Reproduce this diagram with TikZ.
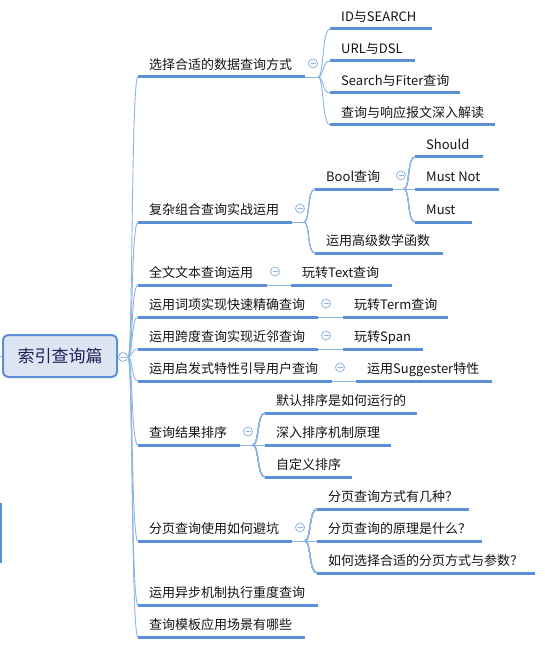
\documentclass[tikz,border=0pt]{standalone}
\usepackage{fontspec}
\setmainfont{Noto Sans CJK SC}
\definecolor{ulc}{HTML}{5B8FD6}
\definecolor{thc}{HTML}{8DB4E2}
\definecolor{rootf}{HTML}{DCE6F2}
\definecolor{roott}{HTML}{1F1F5A}
\newcommand\mmitem[5]{%
  \coordinate (#1-l) at (#2,#4);
  \coordinate (#1-r) at (#3,#4);
  \node[lbl] (#1) at ([xshift=11pt,yshift=7.5pt]#1-l) {#5};
  \draw[ul] (#1-l) -- (#1-r);}
\newcommand\mmcurve[2]{\draw[thinl] (#1) .. controls +(6,0) and +(-8,0) .. (#2-l);}
\begin{document}
\begin{tikzpicture}[x=1pt,y=-1pt,
  lbl/.style={anchor=base west,inner sep=0pt,font=\fontsize{13pt}{15pt}\selectfont,text=black!92},
  ul/.style={draw=ulc,line width=3pt},
  thinl/.style={draw=thc,line width=0.9pt},
  collapse/.style={circle,draw=thc,fill=white,line width=0.8pt,minimum size=9pt,inner sep=0pt,
    path picture={\draw[thc,line width=0.8pt] ([xshift=-2.5pt]path picture bounding box.center) -- ([xshift=2.5pt]path picture bounding box.center);}},
  rootbox/.style={draw=ulc,line width=2pt,fill=rootf,rounded corners=5pt,minimum width=114pt,minimum height=42pt,inner sep=0pt,font=\fontsize{17pt}{20pt}\selectfont,text=roott}]
\useasboundingbox (0,0) rectangle (545,647);

% root
\node[rootbox] (root) at (60,356) {索引查询篇};
\coordinate (trunk) at (128,357);
\coordinate (stub) at (0,356);
\draw[thinl] (stub) -- (root.west);
\draw[thinl] (root.east) -- (trunk);
\coordinate (edgeA) at (0.8,503);
\coordinate (edgeB) at (0.8,563);
\draw[ulc,line width=1.6pt] (edgeA) -- (edgeB);

% level 1
\mmitem{a}{138}{305}{77}{选择合适的数据查询方式}
\mmitem{b}{138}{292}{222}{复杂组合查询实战运用}
\mmitem{c}{138}{267}{285}{全文文本查询运用}
\mmitem{d}{138}{318}{317}{运用词项实现快速精确查询}
\mmitem{e}{138}{318}{349}{运用跨度查询实现近邻查询}
\mmitem{f}{138}{332}{381}{运用启发式特性引导用户查询}
\mmitem{g}{138}{240}{445}{查询结果排序}
\mmitem{h}{138}{292}{541}{分页查询使用如何避坑}
\mmitem{i}{138}{318}{605}{运用异步机制执行重度查询}
\mmitem{j}{138}{305}{637}{查询模板应用场景有哪些}

% level 2
\mmitem{a1}{330}{432}{29}{ID与SEARCH}
\mmitem{a2}{330}{415}{61}{URL与DSL}
\mmitem{a3}{330}{460}{93}{Search与Fiter查询}
\mmitem{a4}{330}{495}{125}{查询与响应报文深入解读}
\mmitem{b1}{315}{393}{189}{Bool查询}
\mmitem{b2}{315}{443}{253}{运用高级数学函数}
\mmitem{b11}{415}{483}{157}{Should}
\mmitem{b12}{415}{499}{189}{Must Not}
\mmitem{b13}{415}{472}{222}{Must}
\mmitem{c1}{291}{392}{285}{玩转Text查询}
\mmitem{d1}{343}{448}{317}{玩转Term查询}
\mmitem{e1}{343}{423}{349}{玩转Span}
\mmitem{f1}{356}{492}{381}{运用Suggester特性}
\mmitem{g1}{265}{417}{413}{默认排序是如何运行的}
\mmitem{g2}{265}{391}{445}{深入排序机制原理}
\mmitem{g3}{265}{352}{477}{自定义排序}
\mmitem{h1}{317}{469}{509}{分页查询方式有几种？}
\mmitem{h2}{317}{482}{541}{分页查询的原理是什么？}
\mmitem{h3}{317}{535}{573}{如何选择合适的分页方式与参数？}

% trunk connectors
\foreach \n in {a,b,c,d,e,f,g,h,i,j}
  \draw[thinl] (trunk) .. controls +(5,0) and +(-7,0) .. (\n-l);

% junctions
\coordinate (aj) at ([xshift=13pt]a-r);
\coordinate (bj) at ([xshift=12pt]b-r);
\coordinate (b1j) at ([xshift=11pt]b1-r);
\coordinate (gj) at ([xshift=13pt]g-r);
\coordinate (hj) at ([xshift=13pt]h-r);
\draw[thinl] (a-r) -- (aj);
\draw[thinl] (b-r) -- (bj);
\draw[thinl] (b1-r) -- (b1j);
\draw[thinl] (g-r) -- (gj);
\draw[thinl] (h-r) -- (hj);
\foreach \n in {a1,a2,a3,a4} \mmcurve{aj}{\n}
\foreach \n in {b1,b2} \mmcurve{bj}{\n}
\foreach \n in {b11,b12,b13} \mmcurve{b1j}{\n}
\foreach \n in {g1,g2,g3} \mmcurve{gj}{\n}
\foreach \n in {h1,h2,h3} \mmcurve{hj}{\n}
\draw[thinl] (c-r) -- (c1-l);
\draw[thinl] (d-r) -- (d1-l);
\draw[thinl] (e-r) -- (e1-l);
\draw[thinl] (f-r) -- (f1-l);

% collapse markers
\node[collapse] (rc) at (123,357) {};
\foreach \n in {a,b,b1,c,d,e,f,g,h}
  \node[collapse] (\n-c) at ([xshift=8pt,yshift=13.5pt]\n-r) {};
\end{tikzpicture}
\end{document}
